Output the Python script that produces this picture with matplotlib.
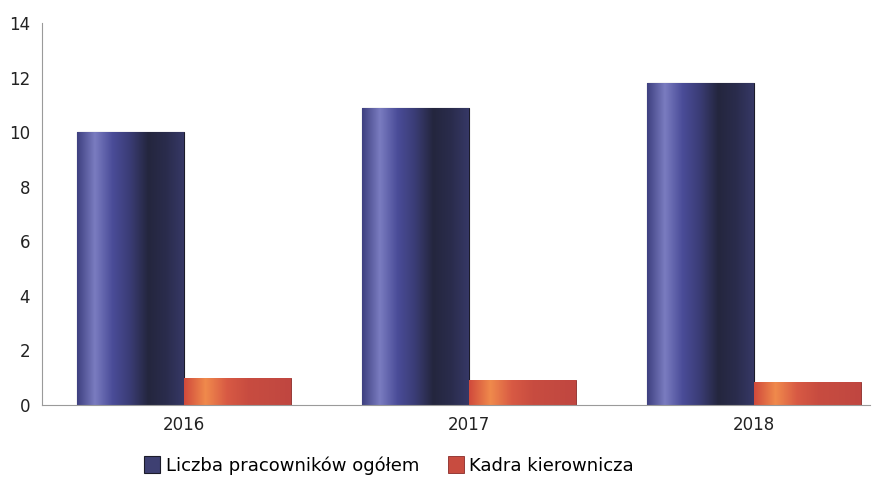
import numpy as np
import matplotlib.pyplot as plt
from matplotlib.colors import LinearSegmentedColormap

years = ["2016", "2017", "2018"]
ogolem = [10.0, 10.9, 11.8]
kadra = [1.0, 0.9, 0.85]
labels = ["Liczba pracowników ogółem", "Kadra kierownicza"]

blue_cmap = LinearSegmentedColormap.from_list(
    "blue_bar", ["#3e4080", "#7a7cc0", "#4a4c98", "#3a3c74", "#24263e", "#2a2c4c", "#363866"])
red_cmap = LinearSegmentedColormap.from_list(
    "red_bar", ["#d04a3c", "#f08a4c", "#d85a44", "#c84c40", "#c44a40", "#c04640"])

fig = plt.figure(figsize=(8.84, 4.82), dpi=100)
ax = fig.add_axes([0.048, 0.16, 0.936, 0.792])

x = np.arange(len(years))
w = 0.375
b1 = ax.bar(x - w / 2, ogolem, w, color="#3e4072", edgecolor="#1c1c2a", linewidth=0.8,
            label=labels[0], zorder=2)
b2 = ax.bar(x + w / 2, kadra, w, color="#c84c40", edgecolor="#8a2a28", linewidth=0.6,
            label=labels[1], zorder=2)

# gradient fill clipped to every bar
grad = np.linspace(0, 1, 256).reshape(1, -1)
for bars, cmap in ((b1, blue_cmap), (b2, red_cmap)):
    for bar in bars:
        x0, y0 = bar.get_x(), bar.get_y()
        im = ax.imshow(grad, cmap=cmap, aspect="auto", zorder=2.5,
                       extent=(x0, x0 + bar.get_width(), y0, y0 + bar.get_height()))
        im.set_clip_path(bar)

ax.set_xlim(-0.498, 2.407)
ax.set_ylim(0, 14)
ax.set_yticks(range(0, 15, 2))
ax.set_xticks(x)
ax.set_xticklabels(years)
ax.tick_params(length=0, labelsize=12, colors="#222222")
ax.tick_params(axis="x", pad=8)
ax.tick_params(axis="y", pad=9)

for s in ("top", "right"):
    ax.spines[s].set_visible(False)
ax.spines["left"].set_color("#9a9a9a")
ax.spines["left"].set_linewidth(0.8)
ax.spines["bottom"].set_color("#9a9a9a")
ax.spines["bottom"].set_linestyle((0, (2, 1)))
ax.spines["bottom"].set_linewidth(0.8)

leg = fig.legend(handles=[b1, b2], labels=labels, loc="center", bbox_to_anchor=(0.44, 0.035),
                 ncol=2, frameon=False, fontsize=13, handlelength=0.9, handleheight=1.1,
                 handletextpad=0.3, columnspacing=1.6)

fig.savefig("out.png", dpi=100)
